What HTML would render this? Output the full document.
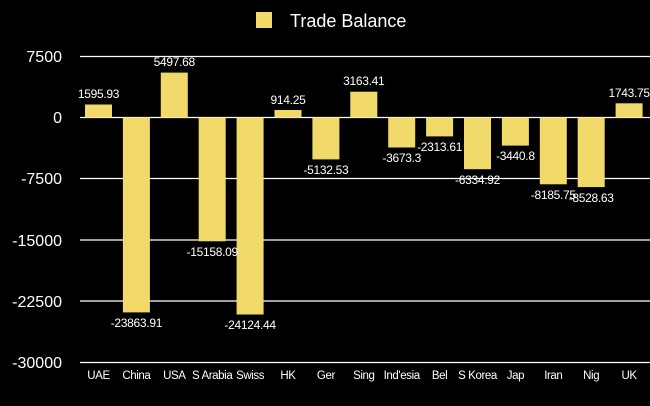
<!DOCTYPE html>
<html><head><meta charset="utf-8"><style>
html,body{margin:0;padding:0;background:#000;}
svg{display:block;}
text{font-family:"Liberation Sans",sans-serif;fill:#fff;}
</style></head><body>
<svg width="650" height="406" viewBox="0 0 650 406" xmlns="http://www.w3.org/2000/svg">
<rect width="650" height="406" fill="#000"/>
<rect x="256" y="12" width="16" height="16" fill="#f2da6a"/>
<text x="290" y="27" font-size="18">Trade Balance</text>
<g stroke="#fff" stroke-width="1.2">
<line x1="80" y1="56.5" x2="650" y2="56.5"/>
<line x1="80" y1="117.5" x2="650" y2="117.5"/>
<line x1="80" y1="178.5" x2="650" y2="178.5"/>
<line x1="80" y1="240" x2="650" y2="240"/>
<line x1="80" y1="301" x2="650" y2="301"/>
<line x1="80" y1="362.5" x2="650" y2="362.5"/>
</g>
<g font-size="16" text-anchor="end">
<text x="62" y="62">7500</text>
<text x="62" y="123">0</text>
<text x="62" y="184">-7500</text>
<text x="62" y="246">-15000</text>
<text x="62" y="307">-22500</text>
<text x="62" y="368">-30000</text>
</g>
<g fill="#f2da6a">
<rect x="85" y="104.5" width="27" height="13"/>
<rect x="122.9" y="117.5" width="27" height="194.9"/>
<rect x="160.8" y="72.6" width="27" height="44.9"/>
<rect x="198.7" y="117.5" width="27" height="123.8"/>
<rect x="236.6" y="117.5" width="27" height="197"/>
<rect x="274.5" y="110" width="27" height="7.5"/>
<rect x="312.4" y="117.5" width="27" height="41.9"/>
<rect x="350.3" y="91.7" width="27" height="25.8"/>
<rect x="388.2" y="117.5" width="27" height="30"/>
<rect x="426.1" y="117.5" width="27" height="18.9"/>
<rect x="464" y="117.5" width="27" height="51.7"/>
<rect x="501.9" y="117.5" width="27" height="28.1"/>
<rect x="539.8" y="117.5" width="27" height="66.8"/>
<rect x="577.7" y="117.5" width="27" height="69.6"/>
<rect x="615.6" y="103.3" width="27" height="14.2"/>
</g>
<g font-size="12" text-anchor="middle" letter-spacing="-0.3">
<text x="98.5" y="98">1595.93</text>
<text x="136.4" y="327">-23863.91</text>
<text x="174.3" y="66">5497.68</text>
<text x="212.2" y="256">-15158.09</text>
<text x="250.1" y="329">-24124.44</text>
<text x="288" y="104">914.25</text>
<text x="325.9" y="174">-5132.53</text>
<text x="363.8" y="85">3163.41</text>
<text x="401.7" y="162">-3673.3</text>
<text x="439.6" y="151">-2313.61</text>
<text x="477.5" y="184">-6334.92</text>
<text x="515.4" y="160">-3440.8</text>
<text x="553.3" y="199">-8185.75</text>
<text x="591.2" y="202">-8528.63</text>
<text x="629.1" y="97">1743.75</text>
</g>
<g font-size="11.5" text-anchor="middle" letter-spacing="-0.4">
<text x="98.5" y="379">UAE</text>
<text x="136.4" y="379">China</text>
<text x="174.3" y="379">USA</text>
<text x="212.2" y="379">S Arabia</text>
<text x="250.1" y="379">Swiss</text>
<text x="288" y="379">HK</text>
<text x="325.9" y="379">Ger</text>
<text x="363.8" y="379">Sing</text>
<text x="401.7" y="379">Ind'esia</text>
<text x="439.6" y="379">Bel</text>
<text x="477.5" y="379">S Korea</text>
<text x="515.4" y="379">Jap</text>
<text x="553.3" y="379">Iran</text>
<text x="591.2" y="379">Nig</text>
<text x="629.1" y="379">UK</text>
</g>
</svg>
</body></html>
